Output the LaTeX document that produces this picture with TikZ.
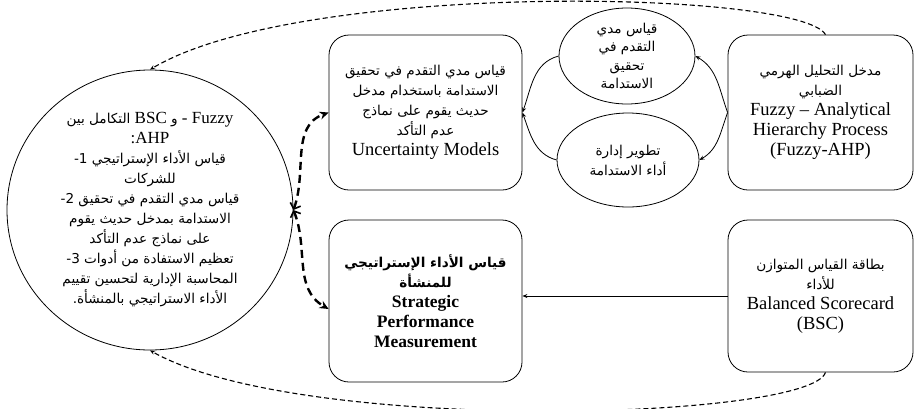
\documentclass[tikz,border=0pt]{standalone}
\usepackage{fontspec}
\setmainfont{Liberation Serif}
\newfontfamily\arabicfont[Script=Arabic]{DejaVu Sans}
\TeXXeTstate=1
\usetikzlibrary{shapes.geometric,arrows.meta}
\newcommand{\arb}[1]{{\arabicfont\fontsize{13.6}{20}\selectfont\beginR #1\endR}}
\newcommand{\anum}[1]{{\arabicfont\fontsize{13.6}{20}\selectfont #1}}
\tikzset{
  rbox/.style={draw, line width=0.8pt, rounded corners=20pt, align=center, inner sep=0pt},
  oval/.style={draw, ellipse, line width=0.8pt, align=center, inner sep=0pt},
  solidarrow/.style={line width=0.8pt, -{Stealth[length=5pt,width=4pt]}},
  thickdash/.style={line width=2.4pt, dash pattern=on 8pt off 5pt, {Straight Barb[length=5pt,width=11pt,line width=1.6pt]}-{Stealth[length=9pt,width=8pt]}},
  thindash/.style={line width=1.1pt, dash pattern=on 5pt off 3pt, -{Stealth[length=5pt,width=4pt]}},
  txt/.style={font=\fontsize{18.5}{20}\selectfont},
  ctxt/.style={font=\fontsize{17}{20}\selectfont},
  btxt/.style={font=\fontsize{17.5}{20}\selectfont\bfseries}
}
\begin{document}
\begin{tikzpicture}[x=1pt,y=-1pt]
\useasboundingbox (0,0) rectangle (914,408);

\node[oval, ctxt, minimum width=286pt, minimum height=280pt] (c) at (150,210)
 {\arb{التكامل بين} BSC \arb{و} - Fuzzy\\
  :AHP\\
  \anum{1-} \arb{قياس الأداء الإستراتيجي}\\
  \arb{للشركات}\\
  \anum{2-} \arb{قياس مدي التقدم في تحقيق}\\
  \arb{الاستدامة بمدخل حديث يقوم}\\
  \arb{على نماذج عدم التأكد}\\
  \anum{3-} \arb{تعظيم الاستفادة من أدوات}\\
  \arb{المحاسبة الإدارية لتحسين تقييم}\\
  \arb{الأداء الاستراتيجي بالمنشأة.}};

\node[rbox, txt, minimum width=193pt, minimum height=155pt] (tb) at (425.5,112.5)
 {\arb{قياس مدي التقدم في تحقيق}\\
  \arb{الاستدامة باستخدام مدخل}\\
  \arb{حديث يقوم على نماذج}\\
  \arb{عدم التأكد}\\
  Uncertainty Models};

\node[rbox, btxt, minimum width=193pt, minimum height=162pt] (bb) at (425.5,301)
 {\arb{قياس الأداء الإستراتيجي}\\
  \arb{للمنشأة}\\
  Strategic\\
  Performance\\
  Measurement};

\node[rbox, txt, minimum width=185pt, minimum height=155pt] (rt) at (820.5,112.5)
 {\arb{مدخل التحليل الهرمي}\\
  \arb{الضبابي}\\
  Fuzzy -- Analytical\\
  Hierarchy Process\\
  (Fuzzy-AHP)};

\node[rbox, txt, minimum width=185pt, minimum height=152pt] (rb) at (820.5,296)
 {\arb{بطاقة القياس المتوازن}\\
  \arb{للأداء}\\
  Balanced Scorecard\\
  (BSC)};

\node[oval, font=\fontsize{16}{18.5}\selectfont, minimum width=136pt, minimum height=96pt] (e1) at (627,56)
 {\arb{قياس مدي}\\ \arb{التقدم في}\\ \arb{تحقيق}\\ \arb{الاستدامة}};

\node[oval, txt, minimum width=142pt, minimum height=94pt] (e2) at (628,160)
 {\arb{تطوير إدارة}\\ \arb{أداء الاستدامة}};

% solid connectors
\draw[solidarrow] (rt.west) to[out=110, in=-30] (e1.east);
\draw[solidarrow] (rt.west) to[out=-110, in=30] (e2.east);
\draw[solidarrow] (e1.west) to[out=195, in=70] (tb.east);
\draw[solidarrow] (e2.west) to[out=165, in=-70] (tb.east);
\draw[solidarrow] (rb.west) -- (bb.east |- rb.west);

% thick dashed
\draw[thickdash] (c.east) to[out=70, in=200] (tb.west);
\draw[thickdash] (c.east) to[out=-68, in=150] ([yshift=-8pt]bb.west);

% big dashed arcs
\coordinate (rtTop) at ([xshift=5pt]rt.north);
\coordinate (rbBot) at ([xshift=5pt]rb.south);
\draw[thindash] (rtTop) .. controls (800,-10) and (300,-20) .. (c.north);
\draw[thindash] (rbBot) .. controls (810,420) and (300,435) .. (c.south);
\end{tikzpicture}
\end{document}
